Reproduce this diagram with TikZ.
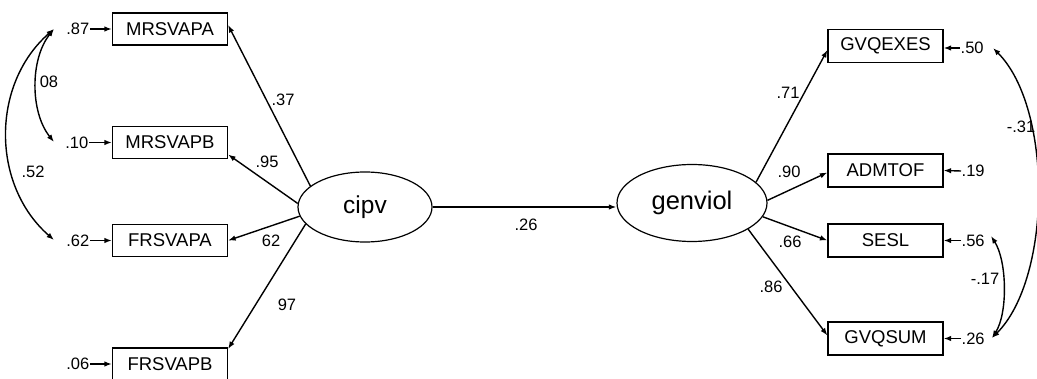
\documentclass[tikz,border=0pt]{standalone}
\usepackage{fontspec}
\setmainfont{Liberation Sans}
\usetikzlibrary{arrows.meta,shapes.geometric}

\begin{document}
\begin{tikzpicture}[x=1pt,y=-1pt,
  line width=1.4pt,
  tip/.style={-{Latex[length=7.5pt,width=5.5pt]}},
  twotip/.style={{Latex[length=7.5pt,width=5.5pt]}-{Latex[length=7.5pt,width=5.5pt]}},
  obs/.style={draw,rectangle,line width=1.2pt,minimum width=115pt,minimum height=32pt,inner sep=0pt,font=\fontsize{18.5}{20}\selectfont},
  lat/.style={draw,ellipse,line width=1.2pt,inner sep=0pt,font=\fontsize{24.5}{26}\selectfont},
  num/.style={inner sep=0pt,font=\fontsize{16.5}{18}\selectfont},
  err/.style={inner sep=0pt,font=\fontsize{16.5}{18}\selectfont},
]
\useasboundingbox (0,0) rectangle (1037,379);

% latent variables
\node[lat,minimum width=134pt,minimum height=70pt] (cipv) at (365,207) {cipv};
\node[lat,minimum width=150pt,minimum height=77pt,font=\fontsize{25.5}{27}\selectfont] (genviol) at (692,203) {genviol};

% indicators of cipv
\node[obs] (mrsvapa) at (170,29) {MRSVAPA};
\node[obs] (mrsvapb) at (170,142.5) {MRSVAPB};
\node[obs] (frsvapa) at (170,240.5) {FRSVAPA};
\node[obs] (frsvapb) at (170,364) {FRSVAPB};

% indicators of genviol
\node[obs,minimum height=33pt] (gvqexes) at (885.5,46) {GVQEXES};
\node[obs,minimum height=33pt] (admtof) at (885.5,170.5) {ADMTOF};
\node[obs,minimum height=33pt] (sesl) at (885.5,240.5) {SESL};
\node[obs,minimum height=33pt] (gvqsum) at (885.5,338.5) {GVQSUM};

% error terms, left side
\node[err,anchor=east] (e1) at (90,29) {.87};
\node[err,anchor=east] (e2) at (89,142.5) {.10};
\node[err,anchor=east] (e3) at (90,240.5) {.62};
\node[err,anchor=east] (e4) at (90,364) {.06};
\foreach \e/\b in {e1/mrsvapa,e2/mrsvapb,e3/frsvapa,e4/frsvapb}
  \draw[tip] (\e.east) -- (\b.west);

% error terms, right side
\node[err,anchor=west] (f1) at (960,48) {.50};
\node[err,anchor=west] (f2) at (961,171) {.19};
\node[err,anchor=west] (f3) at (961,240.5) {.56};
\node[err,anchor=west] (f4) at (961,338.5) {.26};
\draw[tip] (f1.west) -- ([yshift=-2pt]gvqexes.east);
\draw[tip] (f2.west) -- (admtof.east);
\draw[tip] (f3.west) -- (sesl.east);
\draw[tip] (f4.west) -- (gvqsum.east);

% correlation end points
\coordinate (c1) at (54,29);
\coordinate (c2) at (54,142);
\coordinate (c3) at (54,240);
\coordinate (d1) at (993,48);
\coordinate (d3) at (991,236);
\coordinate (d4) at (992,338);

% correlations among error terms
\draw[twotip] (c1) .. controls +(-24,30) and +(-24,-30) .. (c2);
\draw[twotip] (c1) .. controls +(-63,55) and +(-63,-55) .. (c3);
\draw[twotip] (d1) .. controls +(60,60) and +(60,-60) .. (d4);
\draw[twotip] (d3) .. controls +(16,25) and +(16,-25) .. (d4);
\node[num] (r1) at (49,82) {08};
\node[num] (r2) at (33,172) {.52};
\node[num] (r3) at (1021,127) {-.31};
\node[num] (r4) at (985,279) {-.17};

% loadings of cipv
\draw[tip] (cipv.159) -- ([yshift=4pt]mrsvapa.east);
\draw[tip] (cipv.177) -- ([yshift=-12pt]mrsvapb.east);
\draw[tip] (cipv.188) -- (frsvapa.east);
\draw[tip] (cipv.196) -- ([yshift=15pt]frsvapb.east);
\node[num] (l1) at (283,100) {.37};
\node[num] (l2) at (267,162) {.95};
\node[num] (l3) at (271,241) {62};
\node[num] (l4) at (287,305) {97};

% loadings of genviol
\draw[tip] (genviol.18) -- ([yshift=-4pt]gvqexes.west);
\draw[tip] (genviol.2) -- ([yshift=-2pt]admtof.west);
\draw[tip] (genviol.-11) -- (sesl.west);
\draw[tip] (genviol.-25) -- ([yshift=3pt]gvqsum.west);
\node[num] (k1) at (788,93) {.71};
\node[num] (k2) at (789,172) {.90};
\node[num] (k3) at (790,242) {.66};
\node[num] (k4) at (771,287) {.86};

% structural path
\draw[tip] (cipv.east) -- (genviol.west |- cipv.east);
\node[num] (p1) at (526,225) {.26};
\end{tikzpicture}
\end{document}
